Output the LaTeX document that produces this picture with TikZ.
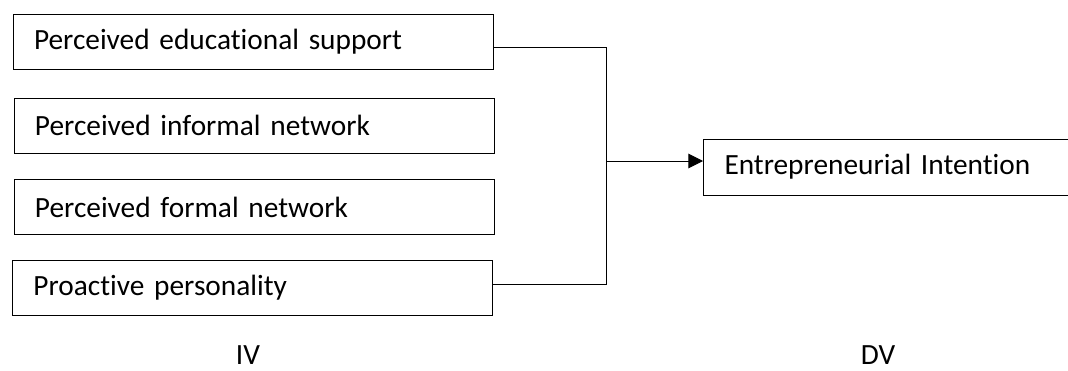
\documentclass[tikz,border=0pt]{standalone}
\usepackage{fontspec}
\setmainfont[Ligatures=NoCommon]{Carlito}
\usetikzlibrary{arrows.meta}
\begin{document}
\begin{tikzpicture}[x=0.75pt,y=-0.75pt,
  line width=0.75pt,
  varbox/.style={draw, rectangle, minimum height=41.25pt, inner xsep=15.75pt,
    inner ysep=0pt, text width=328.5pt, align=left, font=\fontsize{22}{25}\selectfont},
  lbl/.style={inner sep=0pt, font=\fontsize{22}{25}\selectfont},
  link/.style={draw, line width=0.75pt}
]
\useasboundingbox (0,0) rectangle (1068,371);

% independent variables
\node[varbox] (b1) at (253,42)    {Perceived educational support};
\node[varbox] (b2) at (254,125.5) {Perceived informal network};
\node[varbox] (b3) at (254,207)   {Perceived formal network};
\node[varbox] (b4) at (252.5,287.5) {Proactive personality};

% dependent variable
\node[draw, rectangle, minimum height=42pt, minimum width=279pt, inner xsep=15.75pt,
  text width=247.5pt, align=left, font=\fontsize{22}{25}\selectfont, anchor=west]
  (dv) at (703,167) {Entrepreneurial Intention};

% junction of the connectors
\coordinate (j) at (606,161);

\draw[link] ([yshift=-3.75pt]b1.east) -| (j);
\draw[link] ([yshift=1.9pt]b4.east) -| (j);
\draw[link, -{Triangle[length=11pt,width=11pt]}] (j) -- ([yshift=4.5pt]dv.west);

% column labels
\node[lbl, anchor=base] (iv) at (248,364) {IV};
\node[lbl, anchor=base] (dvl) at (878,364) {DV};
\end{tikzpicture}
\end{document}
